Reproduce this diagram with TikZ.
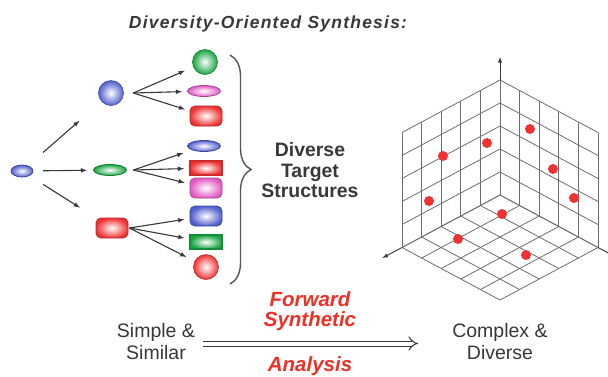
\documentclass[tikz,border=0pt]{standalone}
\usepackage{fontspec}
\setmainfont{Liberation Sans}
\newfontfamily\titlefont[LetterSpace=7]{Liberation Sans}
\usepackage{xcolor}
\usetikzlibrary{calc}
\usetikzlibrary{arrows}
\usetikzlibrary{positioning}
\usetikzlibrary{shapes.geometric}
\usetikzlibrary{decorations.pathreplacing}

\definecolor{dosblue}{RGB}{80,95,205}
\definecolor{dosgreen}{RGB}{25,165,65}
\definecolor{dosred}{RGB}{240,50,50}
\definecolor{dospink}{RGB}{225,90,195}
\definecolor{dosgray}{RGB}{55,55,60}
\definecolor{dosgrid}{RGB}{110,110,110}
\definecolor{doslabel}{RGB}{238,48,38}

\begin{document}
\begin{tikzpicture}[x=1pt, y=-1pt,
    ball/.style={circle, inner sep=0pt, minimum size=25pt, draw=#1!80!black, line width=0.6pt, inner color=white, outer color=#1},
    oval/.style={ellipse, inner sep=0pt, minimum width=33pt, minimum height=11pt, draw=#1!75!black, line width=0.8pt, inner color=white, outer color=#1},
    pill/.style={rectangle, rounded corners=5pt, inner sep=0pt, minimum width=32pt, minimum height=20pt, draw=#1!75!black, line width=0.8pt, inner color=white, outer color=#1},
    slab/.style={rectangle, inner sep=0pt, minimum width=32pt, minimum height=14pt, draw=#1!85!black, line width=1.2pt, inner color=white, outer color=#1},
    link/.style={-latex, line width=1.1pt, draw=dosgray},
    fanlink/.style={link, shorten >=22pt},
    gridline/.style={draw=dosgrid, line width=0.8pt},
    axis/.style={-latex, draw=dosgray, line width=0.9pt},
    plain/.style={inner sep=0pt, text=dosgray, align=center, font=\fontsize{19.5}{22}\selectfont},
    heavy/.style={inner sep=0pt, text=dosgray, align=center, font=\fontsize{19.4}{20.5}\selectfont\bfseries},
    redlabel/.style={inner sep=0pt, text=doslabel, align=center, font=\fontsize{20.5}{20}\selectfont\bfseries\itshape}]

    \useasboundingbox (0,0) rectangle (608,376);

    % Define nodes
    \node[inner sep=0pt, anchor=base, text=dosgray, font={\titlefont\fontsize{17.5}{20}\selectfont\bfseries\itshape}] (title) at (268,28) {Diversity-Oriented Synthesis:};

    \node[ellipse, inner sep=0pt, minimum width=22pt, minimum height=12pt, draw=dosblue!75!black, line width=0.8pt, inner color=white, outer color=dosblue] (start) at (22,171) {};

    \node[ball=dosblue] (blue) at (111,93) {};
    \node[oval=dosgreen] (green) at (110,170) {};
    \node[pill=dosred] (red) at (112,228) {};

    \coordinate[right=9.5pt of blue] (bluefan);
    \coordinate[right=6.5pt of green] (greenfan);
    \coordinate[right=1pt of red] (redfan);

    \node[ball=dosgreen] (t1) at (205,62) {};
    \node[oval=dospink] (t2) at (204,91) {};
    \node[pill=dosred] (t3) at (206,116) {};
    \node[oval=dosblue] (t4) at (204,146) {};
    \node[slab=dosred] (t5) at (206,168) {};
    \node[pill=dospink] (t6) at (206,188) {};
    \node[pill=dosblue] (t7) at (206,216) {};
    \node[slab=dosgreen] (t8) at (206,242) {};
    \node[ball=dosred] (t9) at (206,267) {};

    \coordinate (btop) at (230,55);
    \coordinate (bbot) at (230,284);
    \node[heavy] (targets) at (310,170.5) {Diverse\\Target\\Structures};

    \node[plain] (simple) at (156,342) {Simple \&\\Similar};
    \node[plain] (complex) at (500,342) {Complex \&\\Diverse};
    \coordinate (arrowstart) at (203,343.5);
    \coordinate (arrowend) at (418,343.5);
    \node[redlabel] (forward) at (310,311.5) {Forward\\Synthetic};
    \node[redlabel, anchor=base] (analysis) at (310,371.5) {Analysis};

    % Connect the nodes
    \draw[link, shorten <=28pt, shorten >=42pt] (start.center) -- (blue.center);
    \draw[link, shorten <=21pt, shorten >=23pt] (start.center) -- (green.center);
    \draw[link, shorten <=25pt, shorten >=38pt] (start.center) -- (red.center);

    \foreach \t in {t1,t2,t3}
        \draw[fanlink] (bluefan) -- (\t.center);
    \foreach \t in {t4,t5,t6}
        \draw[fanlink] (greenfan) -- (\t.center);
    \foreach \t in {t7,t8,t9}
        \draw[fanlink] (redfan) -- (\t.center);

    \draw[decorate, decoration={brace, amplitude=21pt}, draw=dosgray!85, line width=1.4pt] (btop) -- (bbot);

    \draw[double=white, double distance=4pt, line width=1pt, draw=dosgray, -implies] (arrowstart) -- (arrowend);

    % Grid box
    \begin{scope}[shift={(500,195)}, x={(-19.6pt,-10.5pt)}, y={(19.6pt,-10.5pt)}, z={(0pt,23pt)}]
        \foreach \i in {0,...,5} {
            \draw[gridline] (\i,0,0) -- (\i,0,5);
            \draw[gridline] (0,0,\i) -- (5,0,\i);
            \draw[gridline] (0,\i,0) -- (0,\i,5);
            \draw[gridline] (0,0,\i) -- (0,5,\i);
            \draw[gridline] (\i,0,0) -- (\i,5,0);
            \draw[gridline] (0,\i,0) -- (5,\i,0);
        }
        \draw[axis] (0,0,5) -- (0,0,6);
        \draw[axis] (5,0,0) -- (6,0,0);
        \draw[axis] (0,5,0) -- (0,6,0);
    \end{scope}

    \foreach \px/\py in {530/129, 487/143, 443/156, 553/169, 429/201, 574/198, 502/214, 458/239, 526/255}
        \fill[dosred] (\px,\py) circle (5pt);

\end{tikzpicture}
\end{document}
